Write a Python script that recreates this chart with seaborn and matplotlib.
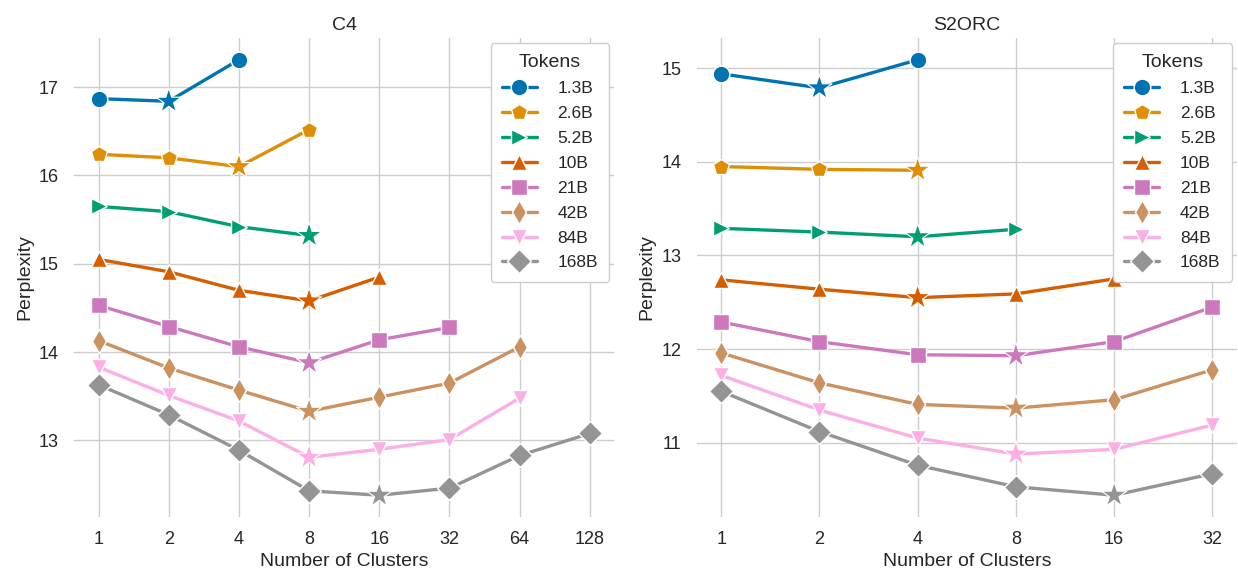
import numpy as np
import pandas as pd
import matplotlib
matplotlib.use("Agg")
import matplotlib.pyplot as plt
import seaborn as sns

# Token budgets (legend order) and their markers
tokens = ["1.3B", "2.6B", "5.2B", "10B", "21B", "42B", "84B", "168B"]
token_markers = ["o", "p", ">", "^", "s", "d", "v", "D"]

# C4 perplexity by number of clusters
c4_clusters = [1, 2, 4, 8, 16, 32, 64, 128]
c4_ppl = {
    "1.3B": [16.87, 16.84, 17.31],
    "2.6B": [16.24, 16.20, 16.10, 16.52],
    "5.2B": [15.65, 15.59, 15.42, 15.32],
    "10B":  [15.05, 14.91, 14.70, 14.58, 14.85],
    "21B":  [14.53, 14.29, 14.06, 13.88, 14.14, 14.28],
    "42B":  [14.13, 13.82, 13.57, 13.33, 13.49, 13.65, 14.06],
    "84B":  [13.83, 13.51, 13.22, 12.81, 12.90, 13.01, 13.48],
    "168B": [13.63, 13.29, 12.89, 12.43, 12.38, 12.46, 12.83, 13.08],
}

# S2ORC perplexity by number of clusters
s2orc_clusters = [1, 2, 4, 8, 16, 32]
s2orc_ppl = {
    "1.3B": [14.94, 14.79, 15.09],
    "2.6B": [13.95, 13.92, 13.91],
    "5.2B": [13.29, 13.25, 13.20, 13.28],
    "10B":  [12.74, 12.64, 12.55, 12.59, 12.75],
    "21B":  [12.29, 12.08, 11.94, 11.93, 12.08, 12.45],
    "42B":  [11.96, 11.64, 11.41, 11.37, 11.46, 11.78],
    "84B":  [11.72, 11.35, 11.05, 10.88, 10.93, 11.19],
    "168B": [11.55, 11.12, 10.76, 10.53, 10.44, 10.67],
}

panels = [("C4", c4_clusters, c4_ppl), ("S2ORC", s2orc_clusters, s2orc_ppl)]

sns.set_theme(style="whitegrid", palette="colorblind")
plt.rcParams["font.family"] = ["Liberation Sans", "DejaVu Sans"]
palette = sns.color_palette("colorblind", len(tokens))

fig, axes = plt.subplots(1, 2, figsize=(12.38, 5.73), dpi=100)
fig.subplots_adjust(left=74 / 1238, right=1237 / 1238, bottom=56 / 573,
                    top=535 / 573, wspace=0.152)


def to_frame(clusters, ppl):
    rows = []
    for tok in tokens:
        for k, v in zip(clusters, ppl[tok]):
            rows.append({"Tokens": tok, "k": k, "pos": np.log2(k), "ppl": v})
    df = pd.DataFrame(rows)
    idx_min = df.groupby("Tokens")["ppl"].idxmin()
    df["best"] = False
    df.loc[idx_min, "best"] = True
    return df


for ax, (title, clusters, ppl) in zip(axes, panels):
    df = to_frame(clusters, ppl)
    sns.lineplot(
        data=df, x="pos", y="ppl", hue="Tokens", style="Tokens",
        hue_order=tokens, style_order=tokens, palette=palette,
        markers=dict(zip(tokens, token_markers)), dashes=False,
        linewidth=2.4, markersize=12, markeredgecolor="white",
        markeredgewidth=1.0, ax=ax,
    )
    # hide the regular marker at each series' best point
    for line, tok in zip(ax.lines, tokens):
        sub = df[df["Tokens"] == tok].reset_index(drop=True)
        keep = [i for i in range(len(sub)) if not sub.loc[i, "best"]]
        line.set_markevery(keep)
    # star at the lowest perplexity of every series
    best = df[df["best"]]
    sns.scatterplot(
        data=best, x="pos", y="ppl", hue="Tokens", hue_order=tokens,
        palette=palette, marker="*", s=360, edgecolor="white",
        linewidth=0.8, legend=False, ax=ax, zorder=5,
    )

    ax.set_xticks(np.log2(clusters))
    ax.set_xticklabels([str(k) for k in clusters])
    ax.set_title(title, fontsize=14)
    ax.set_xlabel("Number of Clusters", fontsize=14)
    ax.set_ylabel("Perplexity", fontsize=14)
    ax.tick_params(axis="both", labelsize=13, length=0)
    ax.tick_params(axis="y", pad=11)
    ax.tick_params(axis="x", pad=10)
    sns.despine(ax=ax, left=True, bottom=True)
    leg = ax.legend(title="Tokens", loc="upper right", fontsize=12.5,
                    title_fontsize=14, framealpha=1, handletextpad=1.2,
                    labelspacing=0.56, borderpad=0.65, borderaxespad=0.3)

fig.savefig("out.png", dpi=100)
